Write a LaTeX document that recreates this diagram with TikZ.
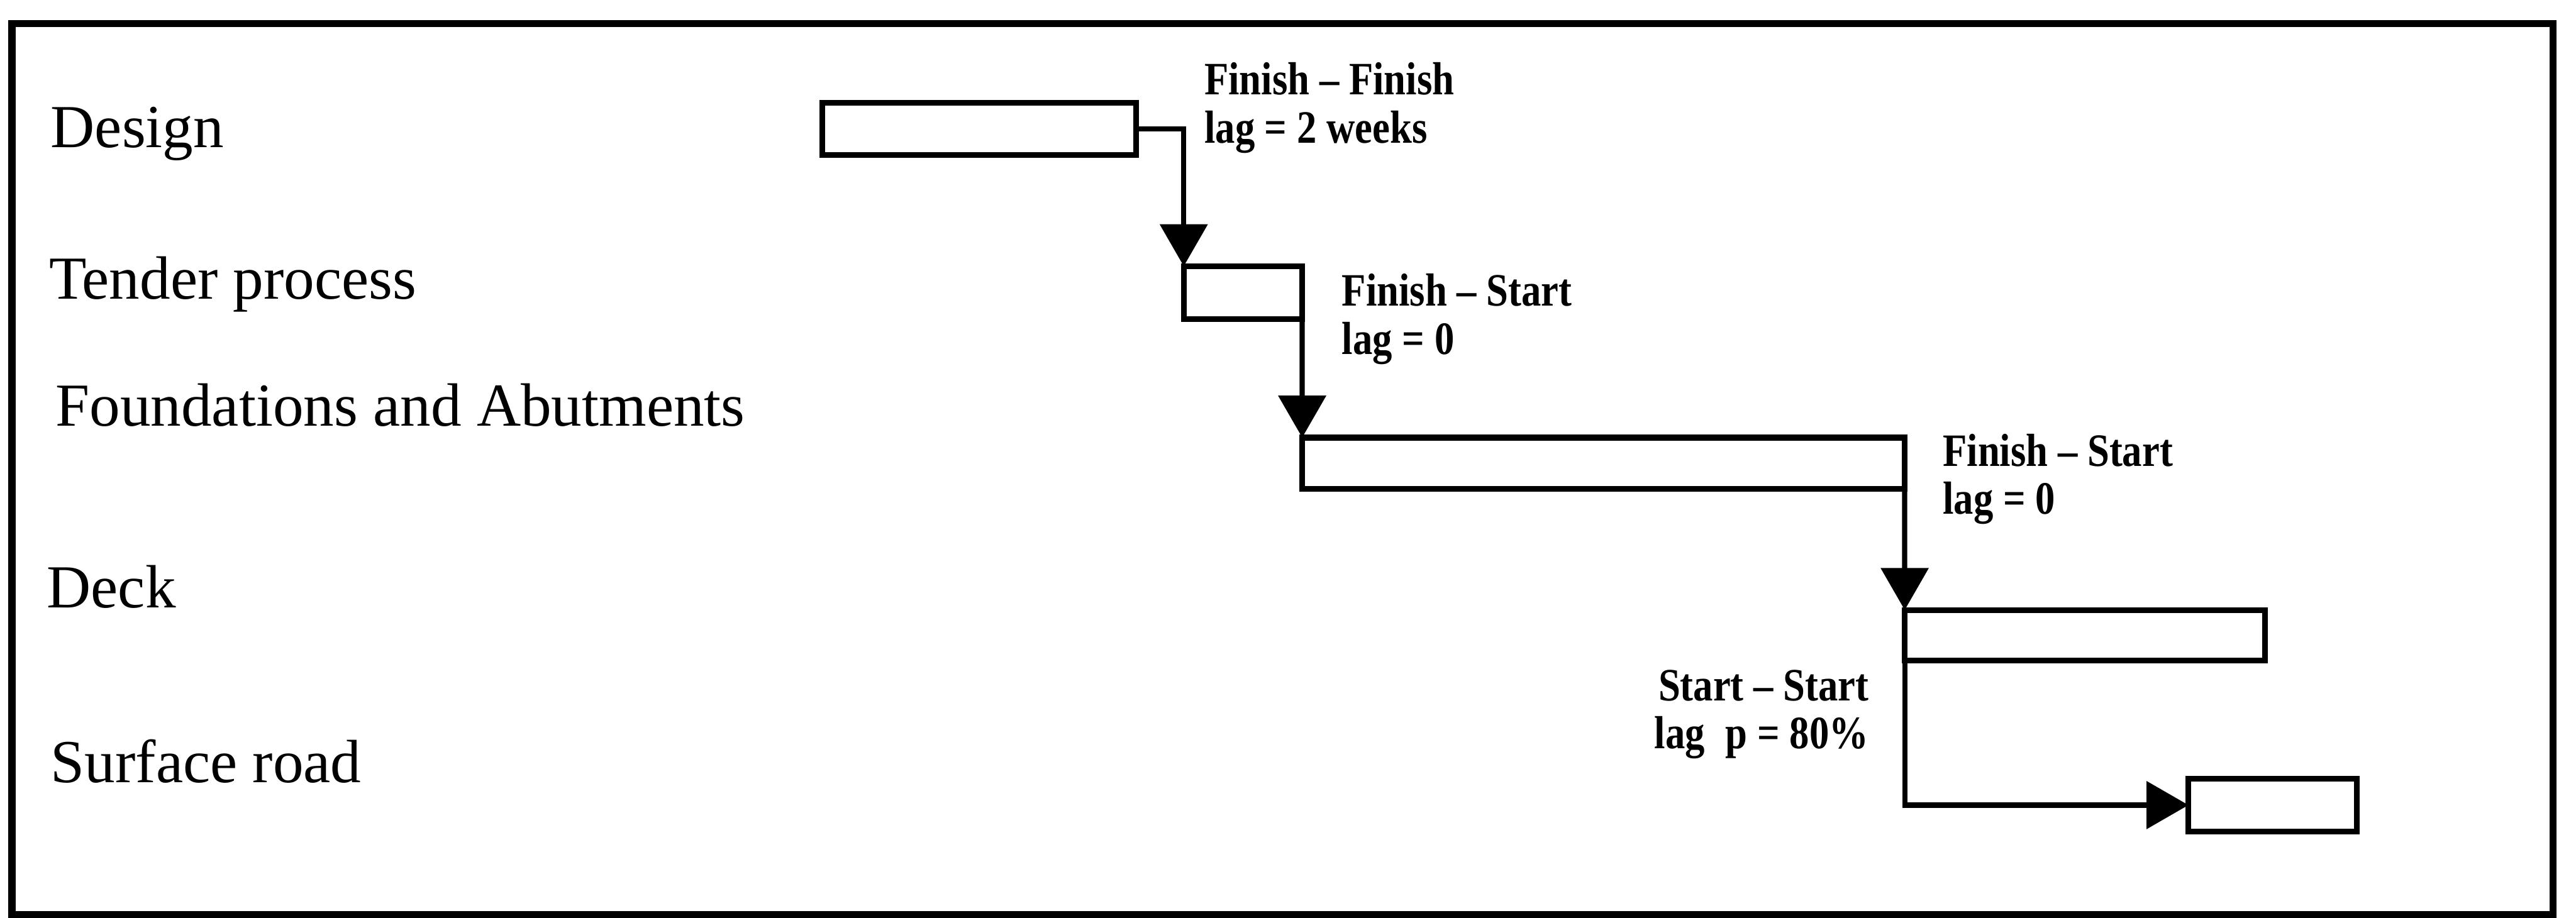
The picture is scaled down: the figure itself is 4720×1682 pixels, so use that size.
\documentclass[tikz,border=0pt]{standalone}
\usepackage{fontspec}
\setmainfont{Liberation Serif}
\newfontfamily\lagfont{Liberation Serif}[FakeStretch=0.85]
\usetikzlibrary{arrows.meta}
\begin{document}
\begin{tikzpicture}[x=0.1pt, y=-0.1pt,
  bar/.style={draw, line width=1.05pt, rectangle, inner sep=0pt, outer sep=0pt},
  link/.style={line width=0.95pt, -{Triangle[length=7.7pt,width=8.6pt]}},
  act/.style={font=\fontsize{11.2}{13}\selectfont, anchor=base west, inner sep=0pt},
  lagl/.style={font=\lagfont\bfseries\fontsize{8.5}{8.8}\selectfont, inner sep=0pt}]
\useasboundingbox (0,0) rectangle (4720,1682);
\draw[line width=1.3pt] (22,43) rectangle (4678,1676);
% activity labels
\node[act] (lDesign) at (91,270) {Design};
\node[act] (lTender) at (88,548) {Tender process};
\node[act] (lFound) at (100,781) {Foundations and Abutments};
\node[act] (lDeck) at (84,1114) {Deck};
\node[act] (lSurf) at (91,1434) {Surface road};
% bars
\node[bar, minimum width=57.5pt, minimum height=9.6pt] (design) at (1794.5,236) {};
\node[bar, minimum width=21.7pt, minimum height=9.7pt] (tender) at (2277.5,536.5) {};
\node[bar, minimum width=110.4pt, minimum height=9.4pt] (fnd) at (2938,849) {};
\node[bar, minimum width=66pt, minimum height=9.3pt] (deck) at (3820,1164.5) {};
\node[bar, minimum width=30.8pt, minimum height=9.7pt] (surf) at (4164,1475.5) {};
% links
\draw[link] (design.east) -| (tender.north west);
\draw[link] (tender.south east) -- (fnd.north west);
\draw[link] (fnd.south east) -- (deck.north west);
\draw[link] (deck.south west) |- (surf.west);
% link labels (base anchor = baseline of the last line)
\node[lagl, anchor=base west, align=left] (ff) at (2205,262) {Finish – Finish\\lag = 2 weeks};
\node[lagl, anchor=base west, align=left] (fs1) at (2457,649) {Finish – Start\\lag = 0};
\node[lagl, anchor=base west, align=left] (fs2) at (3558,942) {Finish – Start\\lag = 0};
\node[lagl, anchor=base east, align=right] (ss) at (3426,1372) {Start – Start\\lag\hspace{0.45em}p = 80\%};
\end{tikzpicture}
\end{document}
